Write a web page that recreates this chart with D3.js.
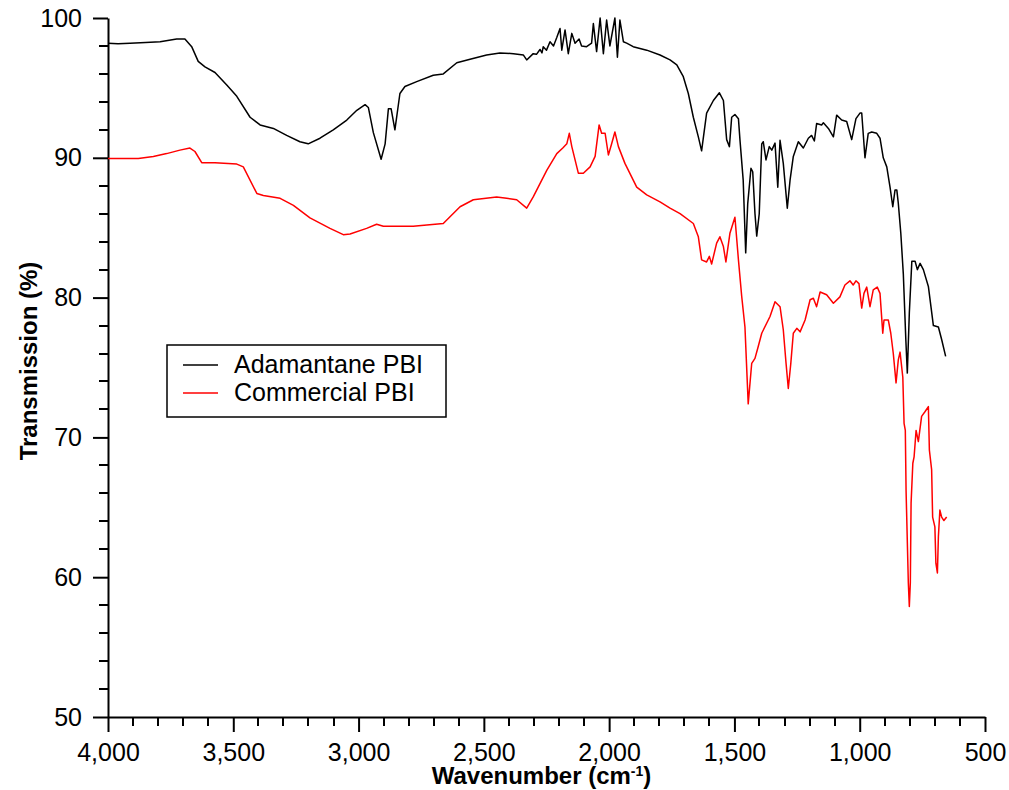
<!DOCTYPE html>
<html>
<head>
<meta charset="utf-8">
<script src="https://cdn.jsdelivr.net/npm/d3@7"></script>
<style>
  body { margin: 0; background: #fff; }
  svg text { font-family: "Liberation Sans", Arial, Helvetica, sans-serif; fill: #000; }
</style>
</head>
<body>
<div id="chart"></div>
<script>
// series names + colours
let seriesNames = ["Adamantane PBI", "Commercial PBI"];
let seriesColors = ["#000000", "#ff0000"];

// [wavenumber (cm-1), transmission (%)]
let adamantanePBI = [
  [4000,98.2],[3960,98.15],[3912,98.2],[3850,98.25],[3792,98.3],[3726,98.5],[3693,98.5],[3666,97.95],
  [3640,96.9],[3613,96.5],[3573,96.1],[3526,95.2],[3486,94.4],[3433,92.9],[3393,92.35],[3340,92.1],
  [3287,91.6],[3234,91.15],[3201,91.0],[3154,91.4],[3101,92.0],[3047,92.7],[3007,93.4],[2974,93.8],
  [2961,93.6],[2941,91.8],[2910,89.9],[2894,91.0],[2881,93.5],[2870,93.5],[2855,92.0],[2835,94.6],
  [2815,95.1],[2768,95.45],[2702,95.9],[2662,96.0],[2608,96.8],[2555,97.05],[2489,97.35],[2436,97.5],
  [2382,97.45],[2342,97.35],[2329,97.0],[2303,97.45],[2290,97.4],[2276,97.75],[2268,97.5],[2263,97.95],
  [2250,97.7],[2236,98.3],[2222,98.0],[2209,98.6],[2196,99.25],[2189,97.7],[2176,99.15],[2163,97.45],
  [2149,98.9],[2136,98.2],[2120,98.5],[2110,98.0],[2090,97.95],[2070,98.2],[2063,99.6],[2050,97.6],
  [2036,100.0],[2023,97.45],[2010,99.85],[1997,98.0],[1977,100.0],[1967,97.2],[1957,99.85],[1943,98.3],
  [1930,98.2],[1904,97.95],[1850,97.7],[1797,97.35],[1757,97.0],[1730,96.65],[1704,95.8],[1684,94.6],
  [1664,92.9],[1644,91.5],[1631,90.5],[1611,93.2],[1584,94.1],[1560,94.65],[1544,94.1],[1531,91.3],
  [1520,90.8],[1511,92.9],[1498,93.1],[1484,92.8],[1478,91.3],[1465,88.4],[1455,83.2],[1447,86.7],
  [1434,89.25],[1427,89.0],[1418,86.0],[1411,84.4],[1401,86.0],[1391,91.0],[1385,91.15],[1374,89.85],
  [1361,90.8],[1351,90.55],[1338,91.05],[1327,87.9],[1318,91.25],[1305,89.6],[1289,86.4],[1278,88.4],
  [1265,90.1],[1245,91.15],[1225,90.7],[1205,91.4],[1192,91.6],[1181,91.2],[1172,92.45],[1152,92.35],
  [1145,92.5],[1125,92.1],[1105,91.5],[1092,93.05],[1072,92.7],[1052,92.6],[1032,91.3],[1015,92.8],
  [999,93.2],[992,93.2],[979,90.0],[966,91.75],[952,91.85],[932,91.75],[919,91.4],[906,90.0],
  [892,89.35],[879,87.9],[868,86.5],[859,87.7],[852,87.7],[846,86.75],[836,84.6],[826,81.7],
  [816,77.0],[810,74.6],[802,78.9],[792,82.6],[779,82.6],[770,82.0],[759,82.45],[746,82.0],
  [726,80.8],[706,78.0],[686,77.9],[673,77.0],[657,75.8]
];

let commercialPBI = [
  [4000,89.95],[3879,89.95],[3819,90.1],[3766,90.3],[3713,90.55],[3673,90.7],[3653,90.45],[3626,89.65],
  [3573,89.65],[3486,89.55],[3460,89.35],[3406,87.45],[3380,87.3],[3313,87.1],[3260,86.6],[3194,85.7],
  [3114,84.95],[3061,84.5],[3034,84.55],[2968,84.95],[2928,85.25],[2901,85.1],[2835,85.1],[2782,85.1],
  [2662,85.3],[2595,86.5],[2542,87.0],[2449,87.2],[2409,87.1],[2369,87.0],[2329,86.4],[2303,87.2],
  [2249,89.1],[2209,90.3],[2185,90.7],[2169,91.0],[2159,91.75],[2149,90.8],[2123,88.9],[2103,88.9],
  [2076,89.35],[2056,90.1],[2040,92.35],[2030,91.75],[2016,91.75],[2003,90.2],[1990,91.0],[1977,91.85],
  [1963,90.8],[1937,89.6],[1890,87.9],[1850,87.35],[1797,86.85],[1757,86.4],[1717,86.0],[1664,85.3],
  [1644,84.35],[1631,82.7],[1611,82.55],[1600,82.95],[1591,82.4],[1571,83.9],[1558,84.35],[1544,83.65],
  [1534,82.55],[1518,84.6],[1498,85.75],[1484,82.7],[1471,80.1],[1458,77.9],[1445,72.4],[1431,75.3],
  [1418,75.65],[1405,76.5],[1391,77.45],[1358,78.65],[1338,79.7],[1318,79.35],[1305,77.7],[1294,75.3],
  [1285,73.5],[1275,75.3],[1265,77.45],[1251,77.8],[1238,77.55],[1218,78.4],[1198,79.85],[1185,79.95],
  [1172,79.35],[1158,80.4],[1132,80.2],[1105,79.6],[1079,80.05],[1059,80.9],[1039,81.2],[1026,80.9],
  [1015,81.2],[1003,81.0],[992,79.25],[983,80.3],[972,80.75],[959,79.35],[946,80.55],[930,80.75],
  [919,80.3],[908,77.45],[903,78.4],[886,78.4],[876,77.45],[866,76.0],[855,73.9],[846,75.55],
  [839,76.1],[828,74.3],[823,71.0],[818,70.5],[815,66.2],[806,59.6],[802,57.9],[798,59.6],
  [795,65.3],[788,68.15],[783,68.6],[775,70.5],[766,69.7],[753,71.5],[739,71.85],[726,72.2],
  [722,69.1],[713,67.7],[709,64.3],[700,63.6],[696,61.0],[690,60.3],[686,62.9],[680,64.8],
  [673,64.3],[664,64.05],[653,64.3]
];

// axis ticks
let xMajorTicks = [4000, 3500, 3000, 2500, 2000, 1500, 1000, 500];
let xMinorTicks = [3900, 3800, 3700, 3600, 3400, 3300, 3200, 3100, 2900, 2800, 2700, 2600,
                   2400, 2300, 2200, 2100, 1900, 1800, 1700, 1600, 1400, 1300, 1200, 1100,
                   900, 800, 700, 600];
let yMajorTicks = [50, 60, 70, 80, 90, 100];
let yMinorTicks = [52, 54, 56, 58, 62, 64, 66, 68, 72, 74, 76, 78, 82, 84, 86, 88, 92, 94, 96, 98];

let allSeries = [adamantanePBI, commercialPBI];

// dimensions
var margin = {top: 18, right: 24, bottom: 73, left: 108},
    width = 1009 - margin.left - margin.right,
    height = 790 - margin.top - margin.bottom;

var svg = d3.select("#chart")
  .append("svg")
    .attr("width", 1009)
    .attr("height", 790)
  .append("g")
    .attr("transform", "translate(" + margin.left + "," + margin.top + ")");

var x = d3.scaleLinear().domain([4000, 500]).range([0, width]);
var y = d3.scaleLinear().domain([50, 100]).range([height, 0]);

// minor ticks as small filled rects, placed with the scales
svg.append("g").selectAll("rect")
  .data(xMinorTicks)
  .enter().append("rect")
    .attr("x", function(d) { return Math.round(x(d)) - 1; })
    .attr("y", height)
    .attr("width", 2)
    .attr("height", 9)
    .attr("fill", "#000");

svg.append("g").selectAll("rect")
  .data(yMinorTicks)
  .enter().append("rect")
    .attr("x", -9)
    .attr("y", function(d) { return Math.round(y(d)) - 1; })
    .attr("width", 9)
    .attr("height", 2)
    .attr("fill", "#000");

// major ticks, labels and domain lines
var xAxis = svg.append("g")
  .attr("transform", "translate(0," + height + ")")
  .call(d3.axisBottom(x).tickValues(xMajorTicks).tickSize(15).tickPadding(11)
        .tickSizeOuter(0).tickFormat(d3.format(",")));

var yAxis = svg.append("g")
  .call(d3.axisLeft(y).tickValues(yMajorTicks).tickSize(15).tickPadding(11).tickSizeOuter(0));

svg.selectAll(".domain")
  .attr("stroke", "#000")
  .attr("stroke-width", 2);
svg.selectAll(".tick line")
  .attr("stroke", "#000")
  .attr("stroke-width", 2);
svg.selectAll(".tick text")
  .style("font-size", "25px")
  .attr("fill", "#000");

// the spectra
var line = d3.line()
  .x(function(d) { return x(d[0]); })
  .y(function(d) { return y(d[1]); });

svg.selectAll("path.series")
  .data(allSeries)
  .enter().append("path")
    .attr("class", "series")
    .attr("d", line)
    .attr("fill", "none")
    .attr("stroke", function(d, i) { return seriesColors[i]; })
    .attr("stroke-width", 1.5)
    .attr("stroke-linejoin", "round");

// axis titles
var xTitle = svg.append("text")
  .attr("text-anchor", "middle")
  .attr("x", width / 2 - 5)
  .attr("y", height + 67)
  .style("font-size", "24px")
  .style("font-weight", "bold");
xTitle.append("tspan").text("Wavenumber (cm");
xTitle.append("tspan").attr("dy", -8).style("font-size", "14px").text("-1");
xTitle.append("tspan").attr("dy", 8).text(")");

svg.append("text")
  .attr("text-anchor", "middle")
  .attr("transform", "translate(" + (37 - margin.left) + "," + (361 - margin.top) + ") rotate(-90)")
  .style("font-size", "24px")
  .style("font-weight", "bold")
  .text("Transmission (%)");

// legend
var legend = svg.append("g")
  .attr("transform", "translate(" + (167 - margin.left) + "," + (345 - margin.top) + ")");

legend.append("rect")
  .attr("width", 279)
  .attr("height", 72)
  .attr("fill", "#fff")
  .attr("stroke", "#000")
  .attr("stroke-width", 1.5);

seriesNames.forEach(function(name, i) {
  legend.append("line")
    .attr("x1", 16).attr("x2", 51)
    .attr("y1", 20 + i * 28).attr("y2", 20 + i * 28)
    .attr("stroke", seriesColors[i])
    .attr("stroke-width", 1.5);
  legend.append("text")
    .attr("x", 67)
    .attr("y", 28 + i * 28)
    .style("font-size", "25px")
    .text(name);
});
</script>
</body>
</html>
